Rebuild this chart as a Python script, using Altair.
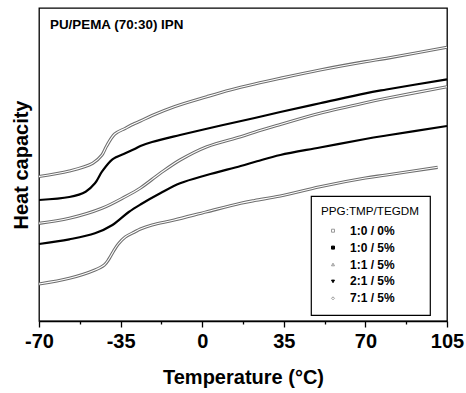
import altair as alt
import pandas as pd

# ---- data (arbitrary heat-capacity units) ----
series_names = ["1:0 / 0%", "1:0 / 5%", "1:1 / 5%", "2:1 / 5%", "7:1 / 5%"]
gray_series = ["1:0 / 0%", "1:1 / 5%", "7:1 / 5%"]
black_series = ["1:0 / 5%", "2:1 / 5%"]

a_T = [-70, -57, -47, -43, -41, -37.5, -33, -29, -26.5, -21.5, -12, 2, 12, 22.5, 33.5, 50.5, 70, 79, 105]
a_cp = [144.5, 150, 157.7, 166, 175, 187, 192.7, 197.5, 200, 205.5, 214.3, 224.3, 231, 237, 242.7, 251, 259.3, 262.7, 273.7]

b_T = [-70, -57, -50, -46, -43, -38.5, -33, -29, -26.5, -21.5, -9.5, 8, 22.5, 33.5, 50.5, 70, 79, 105]
b_cp = [121, 124, 129.3, 137.7, 149.3, 161.7, 167.7, 172, 175, 179, 186, 195.5, 203, 209, 217.7, 227.7, 231.5, 241.7]

c_T = [-70, -57, -43, -33, -26.5, -18, -9.5, 2, 16.5, 24, 33.5, 50.5, 70, 79, 105]
c_cp = [97.7, 102.7, 112.7, 124.3, 133, 147.7, 161, 174.3, 184.3, 190, 196.5, 207.7, 218.3, 222.7, 234.3]

d_T = [-70, -57, -46, -38.5, -31.5, -26.5, -18, -9.5, 2, 16.5, 23.5, 33.5, 50.5, 70, 79, 105]
d_cp = [77, 81.7, 87.7, 96, 109, 116.5, 127.7, 137.7, 146, 155, 159.7, 166, 173.5, 182, 185.5, 195]

e_T = [-70, -57, -46, -42, -40, -38, -36, -33, -29, -26.5, -21.5, -12, 2, 16.5, 22.5, 33.5, 50.5, 70, 79, 101]
e_cp = [37, 42.7, 51, 56, 62, 70, 77, 84, 89, 92, 96, 101, 109.3, 117.7, 120.5, 125, 134.3, 143, 146, 153.7]

x_ticks = [-70, -52.5, -35, -17.5, 0, 17.5, 35, 52.5, 70, 87.5, 105]

sym_shapes = ["square", "square", "triangle-up", "triangle-down", "diamond"]
sym_stroke = ["#999999", "#000000", "#999999", "#000000", "#999999"]
sym_fill = ["#ffffff", "#000000", "#ffffff", "#000000", "#ffffff"]

rows = []
for name, T, cp in zip(series_names, [a_T, b_T, c_T, d_T, e_T], [a_cp, b_cp, c_cp, d_cp, e_cp]):
    for t, v in zip(T, cp):
        rows.append({"T": t, "Cp": v, "series": name})
df = pd.DataFrame(rows)

FONT = "Liberation Sans"
INTERP = "catmull-rom"

x_enc = alt.X(
    "T:Q",
    scale=alt.Scale(domain=[-70, 105], nice=False, zero=False),
    axis=alt.Axis(
        values=x_ticks,
        labelExpr="abs(datum.value % 35) > 1 ? '' : '' + datum.value",
        tickSize={"condition": {"test": "abs(datum.value % 35) > 1", "value": 3}, "value": 6},
        tickColor="black",
        tickWidth=1.3,
        domainColor="black",
        domainWidth=1.3,
        labelFont=FONT,
        labelFontSize=20,
        labelFontWeight="bold",
        labelColor="black",
        labelPadding=4,
        labelFlush=False,
        labelOverlap=False,
        grid=False,
        title="Temperature (°C)",
        titleFont=FONT,
        titleFontSize=20,
        titleFontWeight="bold",
        titleColor="black",
        titlePadding=16,
    ),
)
y_enc = alt.Y(
    "Cp:Q",
    scale=alt.Scale(domain=[0, 313], nice=False, zero=False),
    axis=alt.Axis(
        labels=False,
        ticks=False,
        domain=False,
        grid=False,
        title="Heat capacity",
        titleFont=FONT,
        titleFontSize=20,
        titleFontWeight="bold",
        titleColor="black",
        titlePadding=8,
    ),
)

base = alt.Chart(df)

gray_lines = base.transform_filter(
    alt.FieldOneOfPredicate(field="series", oneOf=gray_series)
).mark_line(interpolate=INTERP, color="#6e6e6e", strokeWidth=3.2).encode(
    x=x_enc, y=y_enc, detail="series:N"
)

inner = base.transform_filter(
    alt.FieldOneOfPredicate(field="series", oneOf=gray_series)
).mark_line(interpolate=INTERP, color="white", strokeWidth=1.1).encode(
    x="T:Q", y="Cp:Q", detail="series:N"
)

black_lines = base.transform_filter(
    alt.FieldOneOfPredicate(field="series", oneOf=black_series)
).mark_line(interpolate=INTERP, color="black", strokeWidth=2.2).encode(
    x="T:Q", y="Cp:Q", detail="series:N"
)

leg = alt.Legend(
    orient="none",
    legendX=272,
    legendY=188,
    title="PPG:TMP/TEGDM",
    titleFont=FONT,
    titleFontSize=11.7,
    titleFontWeight="normal",
    titleColor="black",
    titlePadding=7,
    labelFont=FONT,
    labelFontSize=12,
    labelFontWeight="bold",
    labelColor="black",
    labelOffset=11,
    symbolOffset=6,
    symbolSize=9,
    symbolStrokeWidth=1,
    symbolOpacity=1,
    rowPadding=4.9,
    padding=10,
    strokeColor="black",
    fillColor="white",
)

legend_pts = base.mark_point(filled=True, size=9, opacity=0).encode(
    x="T:Q",
    y="Cp:Q",
    shape=alt.Shape("series:N", scale=alt.Scale(domain=series_names, range=sym_shapes), legend=leg),
    stroke=alt.Stroke("series:N", scale=alt.Scale(domain=series_names, range=sym_stroke), legend=leg),
    fill=alt.Fill("series:N", scale=alt.Scale(domain=series_names, range=sym_fill), legend=leg),
)

label = alt.Chart(pd.DataFrame({"t": ["PU/PEMA (70:30) IPN"]})).mark_text(
    align="left", baseline="middle", font=FONT, fontSize=13.4, fontWeight="bold", color="black"
).encode(text="t:N", x=alt.value(11), y=alt.value(17))

chart = (
    alt.layer(gray_lines, inner, black_lines, legend_pts, label)
    .properties(
        width=408,
        height=313,
        autosize=alt.AutoSizeParams(type="none"),
        padding={"left": 39, "top": 8, "right": 19, "bottom": 72},
        background="white",
    )
    .configure_view(stroke="black", strokeWidth=1.3)
    .configure_legend(strokeWidth=1.2)
)

chart.save("out.html", embed_options={"renderer": "svg", "actions": False})
